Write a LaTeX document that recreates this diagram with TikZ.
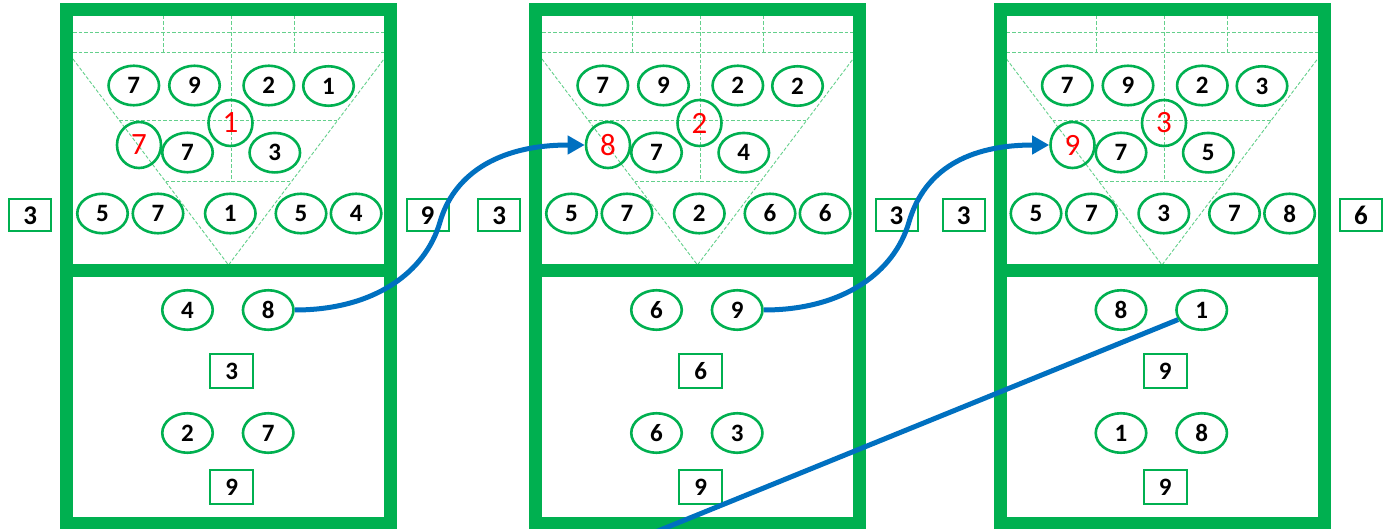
\documentclass[tikz,border=0pt]{standalone}
\usepackage{fontspec}
\setmainfont{Carlito}
\usetikzlibrary{shapes.geometric,arrows.meta,calc}
\definecolor{cgreen}{RGB}{0,176,80}
\definecolor{cblue}{RGB}{0,112,192}
\definecolor{cdash}{RGB}{100,208,140}
\definecolor{cred}{RGB}{255,0,0}
\tikzset{
  frame/.style={draw=cgreen, line width=13pt},
  guide/.style={draw=cdash, line width=0.9pt, dash pattern=on 3.5pt off 2pt},
  player/.style={ellipse, draw=cgreen, line width=2.6pt, minimum width=50.5pt, minimum height=39.5pt, inner sep=0pt, font=\bfseries\fontsize{25}{25}\selectfont},
  setter/.style={ellipse, draw=cgreen, line width=2.6pt, minimum width=44pt, minimum height=46pt, inner sep=0pt, text=cred, font=\fontsize{31}{31}\selectfont},
  sidebox/.style={rectangle, draw=cgreen, line width=2pt, minimum width=42pt, minimum height=32pt, inner sep=0pt, font=\bfseries\fontsize{27}{27}\selectfont},
  benchbox/.style={rectangle, draw=cgreen, line width=2pt, minimum width=43pt, minimum height=34pt, inner sep=0pt, font=\bfseries\fontsize{25}{25}\selectfont},
  flow/.style={draw=cblue, line width=5pt},
}
\newcommand\courtframe{%
  \draw[guide] (6.5,32.3) -- (317.5,32.3);
  \draw[guide] (6.5,52.3) -- (317.5,52.3);
  \draw[guide] (96.5,16) -- (96.5,52.3);
  \draw[guide] (227.7,16) -- (227.7,52.3);
  \draw[guide] (164.8,16) -- (164.8,181.7);
  \draw[guide] (6.5,59) -- (162,265) -- (317.5,59);
  \draw[guide] (52.5,120) -- (271.5,120);
  \draw[guide] (99.1,181.7) -- (224.9,181.7);
  \draw[frame] (0,9.5) rectangle (324,523.5);
  \draw[frame] (0,271) -- (324,271);
}
\newcommand\topnodes[9]{%
  \node[player] (#1a) at (67.3,85.5) {#2};
  \node[player] (#1b) at (128,85.5) {#3};
  \node[player] (#1c) at (202.3,85.5) {#4};
  \node[player] (#1d) at (262,86) {#5};
  \node[setter] (#1s) at (164,123) {#6};
  \node[setter] (#1r) at (72.5,145) {#7};
  \node[player] (#1e) at (121,152.5) {#8};
  \node[player] (#1f) at (208.3,152.7) {#9};
}
\newcommand\frontrow[8]{%
  \node[player] (#1g) at (36,213.5) {#2};
  \node[player] (#1h) at (91.5,213.5) {#3};
  \node[player] (#1i) at (163.8,213.5) {#4};
  \node[player] (#1j) at (234.5,213.5) {#5};
  \node[player] (#1k) at (289.6,213.5) {#6};
  \node[sidebox] (#1l) at (-36.3,215.5) {#7};
  \node[sidebox] (#1m) at (361,215.5) {#8};
}
\newcommand\benchnodes[7]{%
  \node[player] (#1p) at (121,310) {#2};
  \node[player] (#1q) at (201.7,310) {#3};
  \node[benchbox] (#1u) at (165.3,371) {#4};
  \node[player] (#1v) at (121,433) {#5};
  \node[player] (#1w) at (201.7,433) {#6};
  \node[benchbox] (#1z) at (165.3,487) {#7};
}
\begin{document}
\begin{tikzpicture}[x=1pt,y=-1pt]
\useasboundingbox[fill=white] (0,0) rectangle (1394,529);
\begin{scope}[shift={(66.5,0)}]
  \courtframe
  \topnodes{a}{7}{9}{2}{1}{1}{7}{7}{3}
  \frontrow{a}{5}{7}{1}{5}{4}{3}{9}
  \benchnodes{a}{4}{8}{3}{2}{7}{9}
\end{scope}
\begin{scope}[shift={(535.5,0)}]
  \courtframe
  \topnodes{b}{7}{9}{2}{2}{2}{8}{7}{4}
  \frontrow{b}{5}{7}{2}{6}{6}{3}{3}
  \benchnodes{b}{6}{9}{6}{6}{3}{9}
\end{scope}
\begin{scope}[shift={(1000,0)}]
  \courtframe
  \topnodes{c}{7}{9}{2}{3}{3}{9}{7}{5}
  \frontrow{c}{5}{7}{3}{7}{8}{3}{6}
  \benchnodes{c}{8}{1}{9}{1}{8}{9}
\end{scope}
\coordinate (m1) at (440,222);
\coordinate (m2) at (909,222);
\coordinate (tail) at (648,535);
\draw[flow,-{Triangle[length=17pt,width=18pt]}] (aq.east) .. controls ($(aq.east)+(80,0)$) and ($(m1)+(-14.5,50)$) .. (m1) .. controls ($(m1)+(13,-45)$) and ($(br.west)+(-90,0)$) .. (br.west);
\draw[flow,-{Triangle[length=17pt,width=18pt]}] (bq.east) .. controls ($(bq.east)+(80,0)$) and ($(m2)+(-14.5,50)$) .. (m2) .. controls ($(m2)+(13,-45)$) and ($(cr.west)+(-90,0)$) .. (cr.west);
\draw[flow] (cq) -- (tail);
\end{tikzpicture}
\end{document}
